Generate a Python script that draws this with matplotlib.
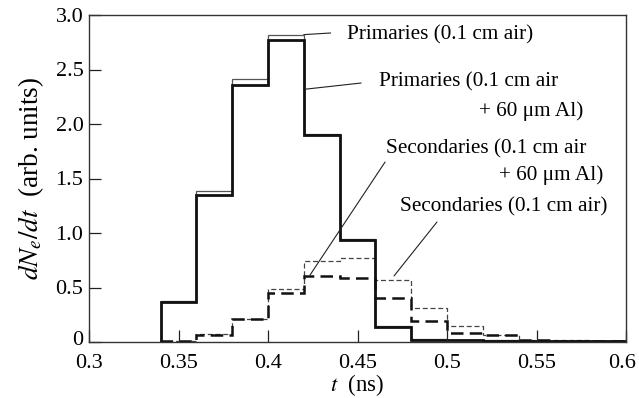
import numpy as np
import matplotlib
matplotlib.use("Agg")
import matplotlib.pyplot as plt
import matplotlib.transforms as mtransforms

plt.rcParams['font.family'] = ['Liberation Serif', 'DejaVu Serif']
plt.rcParams['mathtext.fontset'] = 'stix'

# bin edges (ns) and histogram heights
edges = np.round(np.arange(0.34, 0.6001, 0.02), 2)
prim_air = [0.38, 1.385, 2.415, 2.82, 1.91, 0.945, 0.15, 0.03, 0.02, 0.015, 0.01, 0.01, 0.01]
prim_al = [0.366, 1.35, 2.36, 2.77, 1.90, 0.933, 0.137, 0.02, 0.015, 0.01, 0.01, 0.01, 0.01]
sec_air = [0.01, 0.07, 0.21, 0.485, 0.74, 0.77, 0.567, 0.31, 0.146, 0.065, 0.02, 0.015, 0.01]
sec_al = [0.01, 0.06, 0.21, 0.445, 0.607, 0.59, 0.40, 0.19, 0.08, 0.06, 0.015, 0.01, 0.01]

xticks = [0.3, 0.35, 0.4, 0.45, 0.5, 0.55, 0.6]
xticklabels = ["0.3", "0.35", "0.4", "0.45", "0.5", "0.55", "0.6"]
yticks = [0, 0.5, 1.0, 1.5, 2.0, 2.5, 3.0]
yticklabels = ["0", "0.5", "1.0", "1.5", "2.0", "2.5", "3.0"]

fig = plt.figure(figsize=(6.39, 3.98), dpi=100)
ax = fig.add_axes([89/639, 1-342/398, 537/639, 327/398])

ax.stairs(sec_air, edges, color='#444444', lw=0.9, ls=(0, (4, 2.2)))
ax.stairs(sec_al, edges, color='#111111', lw=1.8, ls=(0, (5, 2.5)))
ax.stairs(prim_air, edges, color='#555555', lw=0.9)
ax.stairs(prim_al, edges, color='#111111', lw=2.0)

ax.set_xlim(0.3, 0.6)
ax.set_ylim(0, 3.0)
ax.set_xticks(xticks)
ax.set_xticklabels(xticklabels)
ax.set_yticks(yticks)
ax.set_yticklabels(yticklabels)
ax.tick_params(direction='in', length=8.5, width=0.9, labelsize=16, color='#222222')
ax.tick_params(axis='x', pad=9)
ax.tick_params(axis='y', pad=4)
# the "0" sits a little above the baseline, and "0.6" is pulled in from the edge
lab0 = ax.get_yticklabels()[0]
lab0.set_transform(lab0.get_transform() + mtransforms.ScaledTranslation(0, 4/100, fig.dpi_scale_trans))
lab6 = ax.get_xticklabels()[-1]
lab6.set_transform(lab6.get_transform() + mtransforms.ScaledTranslation(-4/100, 0, fig.dpi_scale_trans))
for s in ax.spines.values():
    s.set_linewidth(1.0)
    s.set_color('#333333')

ax.set_xlabel(r"$t$  (ns)", fontsize=16.5, labelpad=-1)
ax.set_ylabel(r"$dN_e/dt$  (arb. units)", fontsize=19.5, labelpad=7)

fs = 15.3
line = dict(arrowstyle='-', lw=0.8, color='#222222', shrinkA=0, shrinkB=0)
ax.annotate('', xy=(0.42, 2.82), xytext=(0.435, 2.835), arrowprops=line)
ax.text(0.4442, 2.817, "Primaries (0.1 cm air)", fontsize=fs, ha='left', va='center')

ax.annotate('', xy=(0.4212, 2.32), xytext=(0.452, 2.376), arrowprops=line)
ax.text(0.462, 2.385, "Primaries (0.1 cm air", fontsize=fs, ha='left', va='center')
ax.text(0.576, 2.119, "+ 60 μm Al)", fontsize=fs, ha='right', va='center')

ax.annotate('', xy=(0.4235, 0.615), xytext=(0.4654, 1.651), arrowprops=line)
ax.text(0.466, 1.771, "Secondaries (0.1 cm air", fontsize=fs, ha='left', va='center')
ax.text(0.5872, 1.532, "+ 60 μm Al)", fontsize=fs, ha='right', va='center')

ax.annotate('', xy=(0.4704, 0.606), xytext=(0.4944, 1.101), arrowprops=line)
ax.text(0.4737, 1.239, "Secondaries (0.1 cm air)", fontsize=fs, ha='left', va='center')

fig.savefig("out.png", dpi=100)
